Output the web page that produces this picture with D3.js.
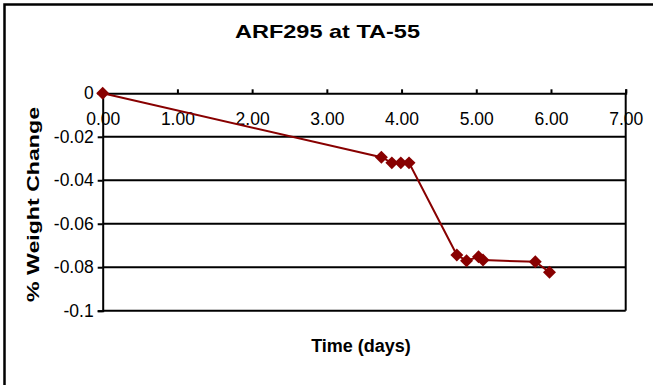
<!DOCTYPE html>
<html>
<head>
<meta charset="utf-8">
<script src="https://cdn.jsdelivr.net/npm/d3@7"></script>
<style>
  body { margin: 0; background: #fff; }
  text { font-family: "Liberation Sans", Arial, sans-serif; fill: #000; }
</style>
</head>
<body>
<script>
const width = 653;
const height = 385;

const days = [0, 3.73, 3.87, 3.99, 4.10, 4.74, 4.87, 5.03, 5.09, 5.79, 5.98];
const weightChange = [0, -0.0294, -0.032, -0.032, -0.032, -0.0744, -0.077, -0.0752, -0.0767, -0.0775, -0.0823];
const xTicks = [0, 1, 2, 3, 4, 5, 6, 7];
const xTickLabels = ['0.00', '1.00', '2.00', '3.00', '4.00', '5.00', '6.00', '7.00'];
const yTicks = [0, -0.02, -0.04, -0.06, -0.08, -0.1];
const yTickLabels = ['0', '-0.02', '-0.04', '-0.06', '-0.08', '-0.1'];

const data = days.map((d, i) => ({ day: d, change: weightChange[i] }));

const margin = { top: 93.3, right: 27.3, bottom: 74.3, left: 102.7 };
const red = '#880000';

const svg = d3.select('body').append('svg')
    .attr('width', width)
    .attr('height', height);

// outer frame (only left and top edges show)
svg.append('path')
    .attr('d', `M4.5,${height + 5} V4.5 H${width + 5}`)
    .attr('fill', 'none')
    .attr('stroke', '#000')
    .attr('stroke-width', 2.5);

const xScale = d3.scaleLinear()
    .domain([0, 7])
    .range([margin.left, width - margin.right]);
const yScale = d3.scaleLinear()
    .domain([-0.1, 0])
    .range([height - margin.bottom, margin.top]);

// gridlines
svg.append('g').selectAll('line')
    .data(yTicks.filter(v => v !== 0))
    .enter().append('line')
    .attr('x1', xScale(0))
    .attr('x2', xScale(7))
    .attr('y1', d => yScale(d))
    .attr('y2', d => yScale(d))
    .attr('stroke', '#000')
    .attr('stroke-width', 2);

// right edge of plot
svg.append('line')
    .attr('x1', xScale(7)).attr('x2', xScale(7))
    .attr('y1', yScale(0)).attr('y2', yScale(-0.1))
    .attr('stroke', '#000')
    .attr('stroke-width', 2);

// x axis sits on the zero line at top, labels below it
const xAxis = d3.axisTop(xScale)
    .tickValues(xTicks)
    .tickSize(4)
    .tickFormat((d, i) => xTickLabels[i]);
const gx = svg.append('g')
    .attr('transform', `translate(0, ${yScale(0)})`)
    .call(xAxis);
gx.select('.domain').attr('stroke-width', 2);
gx.selectAll('.tick line').attr('stroke-width', 2);
gx.selectAll('.tick text')
    .attr('y', 32)
    .attr('dy', 0)
    .attr('font-size', 17.5)
    .attr('font-family', '"Liberation Sans", Arial, sans-serif');

const yAxis = d3.axisLeft(yScale)
    .tickValues(yTicks)
    .tickSize(5)
    .tickPadding(4)
    .tickFormat((d, i) => yTickLabels[i]);
const gy = svg.append('g')
    .attr('transform', `translate(${xScale(0)}, 0)`)
    .call(yAxis);
gy.select('.domain').attr('stroke-width', 2);
gy.selectAll('.tick line').attr('stroke-width', 2);
gy.selectAll('.tick text')
    .attr('font-size', 17.5)
    .attr('font-family', '"Liberation Sans", Arial, sans-serif');

// series
const line = d3.line()
    .x(d => xScale(d.day))
    .y(d => yScale(d.change));
svg.append('path')
    .datum(data)
    .attr('d', line)
    .attr('fill', 'none')
    .attr('stroke', red)
    .attr('stroke-width', 2);

svg.selectAll('.marker').data(data)
    .enter().append('path')
    .attr('class', 'marker')
    .attr('d', d3.symbol().type(d3.symbolSquare).size(84))
    .attr('transform', d => `translate(${xScale(d.day)}, ${yScale(d.change)}) rotate(45)`)
    .attr('fill', red);

// titles
svg.append('text')
    .attr('x', 327.5)
    .attr('y', 38)
    .attr('text-anchor', 'middle')
    .attr('font-size', 19)
    .attr('font-weight', 'bold')
    .attr('textLength', 185)
    .attr('lengthAdjust', 'spacingAndGlyphs')
    .text('ARF295 at TA-55');

svg.append('text')
    .attr('x', 361)
    .attr('y', 352)
    .attr('text-anchor', 'middle')
    .attr('font-size', 18)
    .attr('font-weight', 'bold')
    .text('Time (days)');

svg.append('text')
    .attr('transform', 'translate(39, 204.5) rotate(-90)')
    .attr('text-anchor', 'middle')
    .attr('font-size', 17)
    .attr('font-weight', 'bold')
    .attr('textLength', 195)
    .attr('lengthAdjust', 'spacingAndGlyphs')
    .text('% Weight Change');
</script>
</body>
</html>
